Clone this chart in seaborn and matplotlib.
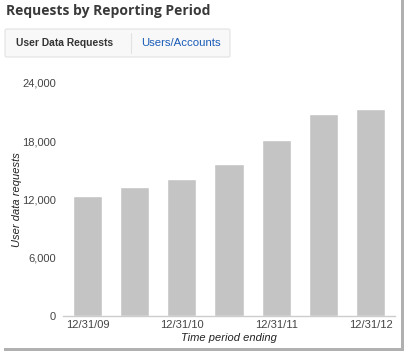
import matplotlib
matplotlib.use("Agg")
import matplotlib.pyplot as plt
import seaborn as sns
import pandas as pd
from matplotlib.patches import FancyBboxPatch, Rectangle

periods = ['12/31/09', '6/30/10', '12/31/10', '6/30/11', '12/31/11', '6/30/12', '12/31/12']
requests = [12400, 13300, 14100, 15700, 18100, 20800, 21300]
shown_labels = ['12/31/09', '', '12/31/10', '', '12/31/11', '', '12/31/12']
yticks = [0, 6000, 12000, 18000, 24000]

data = pd.DataFrame({'period': periods, 'requests': requests})

sns.set_style('white')
plt.rcParams['font.family'] = ['Liberation Sans', 'DejaVu Sans']

fig = plt.figure(figsize=(4.04, 3.52), dpi=100)
ax = fig.add_axes([63/404, 36/352, 332/404, 233/352])

sns.barplot(data=data, x='period', y='requests', color='#c4c4c4', saturation=1,
            width=0.62, ax=ax)

ax.set_ylim(0, 24000)
ax.set_xlim(-0.52, 6.52)
ax.set_yticks(yticks)
ax.set_yticklabels(['{:,}'.format(v) for v in yticks])
ax.set_xticks(range(len(periods)))
ax.set_xticklabels(shown_labels)
ax.tick_params(axis='both', length=0, labelsize=8, labelcolor='#444444')
ax.tick_params(axis='y', pad=5)
ax.tick_params(axis='x', pad=3)

for s in ['top', 'right', 'left']:
    ax.spines[s].set_visible(False)
ax.spines['bottom'].set_color('#cccccc')
ax.spines['bottom'].set_linewidth(1)

ax.set_xlabel('Time period ending', fontsize=8, style='italic', color='#222222', labelpad=2)
ax.set_ylabel('User data requests', fontsize=8, style='italic', color='#222222', labelpad=0)

# title and tabs
fig.text(6/404, 1 - 11/352, 'Requests by Reporting Period', fontsize=10, fontweight='bold',
         color='#3a3a3a', family=['Open Sans', 'DejaVu Sans'], va='center', ha='left')

tab = FancyBboxPatch((5/404, 1 - 57/352), 225/404, 28/352, boxstyle='round,pad=0,rounding_size=0.004',
                     transform=fig.transFigure, facecolor='#f8f8f8', edgecolor='#e2e2e2', linewidth=0.8)
fig.add_artist(tab)
fig.add_artist(plt.Line2D([131/404, 131/404], [1 - 53/352, 1 - 33/352], transform=fig.transFigure,
                          color='#e2e2e2', linewidth=0.8))
fig.text(16/404, 1 - 43/352, 'User Data Requests', fontsize=7.4, fontweight='bold',
         color='#333333', va='center', ha='left')
fig.text(141/404, 1 - 43/352, 'Users/Accounts', fontsize=8.2, color='#1a5cb8',
         va='center', ha='left')

# screenshot shadow edges
fig.add_artist(Rectangle((401/404, 4/352), 3/404, 348/352, transform=fig.transFigure,
                         facecolor='#b0b0b0', edgecolor='none'))
fig.add_artist(Rectangle((4/404, 1/352), 400/404, 3/352, transform=fig.transFigure,
                         facecolor='#b0b0b0', edgecolor='none'))

fig.savefig('out.png', dpi=100)
